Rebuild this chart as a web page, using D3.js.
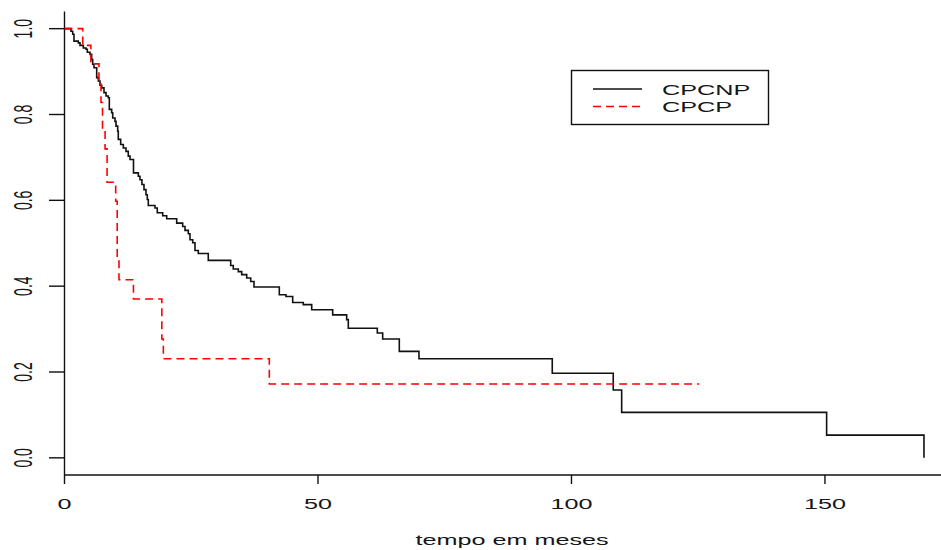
<!DOCTYPE html>
<html>
<head>
<meta charset="utf-8">
<script src="https://cdn.jsdelivr.net/npm/d3@7"></script>
<style>
  body { margin: 0; background: #fff; }
  svg text { font-family: "Liberation Sans", Arial, sans-serif; fill: #161616; }
</style>
</head>
<body>
<div id="chart"></div>
<script>
// Curvas de sobrevivência (Kaplan-Meier)
const cpcnpTime = [0, 1.28, 1.62, 1.87, 2.72, 3.06, 3.71, 4.24, 4.50, 5.03, 5.36, 5.56, 5.82, 6.35, 6.67, 7.00, 7.34, 7.79, 8.19, 8.64,
  8.84, 9.31, 9.51, 9.96, 10.16, 10.49, 10.61, 11.08, 11.60, 12.13, 12.58, 12.92, 13.61, 14.56, 14.89, 15.28, 15.68, 16.07, 16.33, 16.53,
  17.85, 18.30, 19.37, 20.16, 22.13, 23.31, 23.77, 24.42, 24.75, 25.29, 25.74, 26.39, 28.36, 32.78, 33.29, 34.28, 34.95, 35.94, 36.73, 37.38,
  42.37, 43.69, 45.01, 47.10, 48.76, 52.90, 55.66, 55.98, 61.70, 62.76, 66.04, 69.92, 96.21, 108.24, 109.90, 150.33, 169.53];
const cpcnpSurv = [1, 0.994, 0.987, 0.971, 0.967, 0.961, 0.955, 0.952, 0.945, 0.940, 0.928, 0.917, 0.909, 0.886, 0.878, 0.868, 0.862, 0.851, 0.843, 0.839,
  0.812, 0.804, 0.792, 0.784, 0.773, 0.761, 0.742, 0.730, 0.722, 0.714, 0.703, 0.695, 0.664, 0.656, 0.648, 0.637, 0.625, 0.613, 0.602, 0.588,
  0.582, 0.571, 0.564, 0.557, 0.547, 0.539, 0.530, 0.522, 0.508, 0.501, 0.483, 0.476, 0.460, 0.448, 0.440, 0.434, 0.427, 0.419, 0.411, 0.398,
  0.380, 0.376, 0.362, 0.357, 0.345, 0.333, 0.322, 0.302, 0.291, 0.277, 0.248, 0.231, 0.197, 0.158, 0.106, 0.053, 0];

const cpcpTime = [0, 3.6, 5.2, 6.8, 7.2, 7.5, 8.0, 8.4, 10.1, 10.4, 10.75, 13.6, 19.2, 19.5, 40.4, 125.2];
const cpcpSurv = [1, 0.961, 0.918, 0.874, 0.828, 0.765, 0.720, 0.642, 0.598, 0.462, 0.415, 0.370, 0.277, 0.231, 0.172, 0.172];

const xTicks = [0, 50, 100, 150];
const yTicks = [0, 0.2, 0.4, 0.6, 0.8, 1.0];
const legendLabels = ["CPCNP", "CPCP"];
const xTitle = "tempo em meses";

const width = 941, height = 550;
const sx = 1.8, sy = 1.1; // a imagem original está esticada na horizontal

const svg = d3.select("#chart")
  .append("svg")
  .attr("width", width)
  .attr("height", height);

// Escalas
const x = d3.scaleLinear().domain([0, 176.4]).range([64.5, 958.8]);
const y = d3.scaleLinear().domain([-0.04, 1.04]).range([475, 11.5]);

// Eixos (estilo R, bty = "l")
svg.append("line")
  .attr("x1", x(0)).attr("x2", width)
  .attr("y1", 475).attr("y2", 475)
  .attr("stroke", "#111").attr("stroke-width", 1.4);
svg.append("line")
  .attr("x1", x(0)).attr("x2", x(0))
  .attr("y1", 11.5).attr("y2", 475)
  .attr("stroke", "#111").attr("stroke-width", 1.4);

svg.selectAll(".xtick")
  .data(xTicks)
  .enter()
  .append("line")
  .attr("x1", d => x(d)).attr("x2", d => x(d))
  .attr("y1", 475).attr("y2", 484)
  .attr("stroke", "#111").attr("stroke-width", 1.4);

svg.selectAll(".xlab")
  .data(xTicks)
  .enter()
  .append("text")
  .attr("text-anchor", "middle")
  .attr("font-size", "14px")
  .attr("transform", d => `translate(${x(d)},509) scale(${sx},${sy})`)
  .text(d => d);

svg.selectAll(".ytick")
  .data(yTicks)
  .enter()
  .append("line")
  .attr("x1", 49).attr("x2", x(0))
  .attr("y1", d => y(d)).attr("y2", d => y(d))
  .attr("stroke", "#111").attr("stroke-width", 1.4);

svg.selectAll(".ylab")
  .data(yTicks)
  .enter()
  .append("text")
  .attr("text-anchor", "middle")
  .attr("font-size", "14px")
  .attr("transform", d => `translate(31.5,${y(d)}) scale(${sx},1.0) rotate(-90)`)
  .text(d => d.toFixed(1));

svg.append("text")
  .attr("text-anchor", "middle")
  .attr("font-size", "14px")
  .attr("transform", `translate(512,545) scale(${sx},${sy})`)
  .text(xTitle);

// Curvas em escada
const step = d3.line()
  .x(d => x(d[0]))
  .y(d => y(d[1]))
  .curve(d3.curveStepAfter);

svg.append("path")
  .datum(cpcnpTime.map((t, i) => [t, cpcnpSurv[i]]))
  .attr("d", step)
  .attr("fill", "none")
  .attr("stroke", "#111")
  .attr("stroke-width", 1.6);

svg.append("path")
  .datum(cpcpTime.map((t, i) => [t, cpcpSurv[i]]))
  .attr("d", step)
  .attr("fill", "none")
  .attr("stroke", "#ff0000")
  .attr("stroke-width", 1.6)
  .attr("stroke-dasharray", "8,5");

// Legenda
const legend = svg.append("g");
legend.append("rect")
  .attr("x", 571.5).attr("y", 70.5)
  .attr("width", 197).attr("height", 54)
  .attr("fill", "white")
  .attr("stroke", "#111").attr("stroke-width", 1.4);

const legendColors = ["#111", "#ff0000"];
const legendDash = [null, "8,5"];

legend.selectAll(".lline")
  .data(legendLabels)
  .enter()
  .append("line")
  .attr("x1", 593).attr("x2", 642)
  .attr("y1", (d, i) => 89 + i * 17.5)
  .attr("y2", (d, i) => 89 + i * 17.5)
  .attr("stroke", (d, i) => legendColors[i])
  .attr("stroke-width", 1.6)
  .attr("stroke-dasharray", (d, i) => legendDash[i]);

legend.selectAll(".ltext")
  .data(legendLabels)
  .enter()
  .append("text")
  .attr("font-size", "14px")
  .attr("transform", (d, i) => `translate(662,${94.5 + i * 17}) scale(${sx},${sy})`)
  .text(d => d);
</script>
</body>
</html>
